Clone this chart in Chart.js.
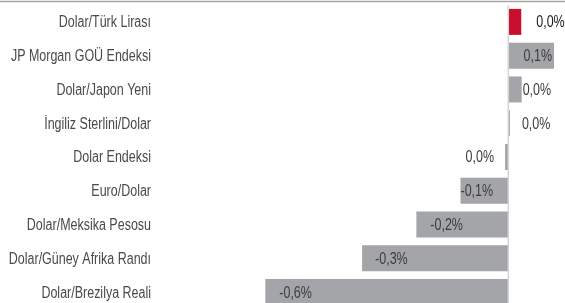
<!DOCTYPE html>
<html>
<head>
<meta charset="utf-8">
<script src="https://cdn.jsdelivr.net/npm/chart.js@4"></script>
<style>
  html, body { margin: 0; padding: 0; background: #fff; overflow: hidden; }
  canvas { display: block; }
</style>
</head>
<body>
<canvas id="myChart" width="565" height="310"></canvas>
<script>
// veriler
const categories = [
  'Dolar/Türk Lirası',
  'JP Morgan GOÜ Endeksi',
  'Dolar/Japon Yeni',
  'İngiliz Sterlini/Dolar',
  'Dolar Endeksi',
  'Euro/Dolar',
  'Dolar/Meksika Pesosu',
  'Dolar/Güney Afrika Randı',
  'Dolar/Brezilya Reali'
];
const values = [0.032, 0.113, 0.033, 0.004, -0.008, -0.118, -0.227, -0.361, -0.6];
const valueLabels = ['0,0%', '0,1%', '0,0%', '0,0%', '0,0%', '-0,1%', '-0,2%', '-0,3%', '-0,6%'];

const gray = '#a3a5a8';
const red = '#c8102e';
const font = "16px 'Liberation Sans', Arial, sans-serif";
const squeeze = 0.78; // dar yazı tipi taklidi

// etiket yerleşimi: [mod, kayma]
const labelPlace = [
  ['out', 15], ['inEnd', 2], ['out', 1], ['out', 12], ['out', 11],
  ['inStart', 0], ['inStart', 14], ['inStart', 13], ['inStart', 14]
];

function narrowText(ctx, str, x, y, align) {
  const w = ctx.measureText(str).width * squeeze;
  const left = align === 'right' ? x - w : x;
  ctx.save();
  ctx.translate(left, y);
  ctx.scale(squeeze, 1);
  ctx.textAlign = 'left';
  ctx.fillText(str, 0, 0);
  ctx.restore();
}

const extras = {
  id: 'extras',
  afterDraw(chart) {
    const ctx = chart.ctx;
    const x = chart.scales.x;
    const y = chart.scales.y;
    const area = chart.chartArea;
    ctx.save();
    // üst çizgi
    ctx.strokeStyle = '#a6a6a6';
    ctx.lineWidth = 1.5;
    ctx.beginPath();
    ctx.moveTo(0, 1.5);
    ctx.lineTo(chart.width, 1.5);
    ctx.stroke();
    // sıfır çizgisi
    const x0 = x.getPixelForValue(0);
    ctx.strokeStyle = '#d4d4d4';
    ctx.lineWidth = 1.5;
    ctx.beginPath();
    ctx.moveTo(x0, area.top);
    ctx.lineTo(x0, chart.height);
    ctx.stroke();

    ctx.font = font;
    ctx.textBaseline = 'middle';
    // kategori etiketleri
    ctx.fillStyle = '#4a4a4a';
    categories.forEach((c, i) => {
      narrowText(ctx, c, area.left - 9, y.getPixelForValue(i) + 1, 'right');
    });
    // değer etiketleri
    chart.getDatasetMeta(0).data.forEach((bar, i) => {
      const v = values[i];
      const mode = labelPlace[i][0], off = labelPlace[i][1];
      const end = bar.x, start = bar.base;
      let tx, al;
      ctx.fillStyle = i === 0 ? '#1a1a1a' : '#3c3c3c';
      if (mode === 'out') {
        if (v >= 0) { al = 'left'; tx = end + off; }
        else { al = 'right'; tx = end - off; }
      } else if (mode === 'inEnd') {
        al = 'right'; tx = end - off;
      } else {
        al = 'left'; tx = Math.min(end, start) + off;
      }
      narrowText(ctx, valueLabels[i], tx, bar.y + 1, al);
    });
    ctx.restore();
  }
};

new Chart(document.getElementById('myChart'), {
  type: 'bar',
  data: {
    labels: categories,
    datasets: [{
      data: values,
      backgroundColor: values.map((v, i) => i === 0 ? red : gray),
      borderWidth: 0,
      barPercentage: 0.77,
      categoryPercentage: 1
    }]
  },
  options: {
    indexAxis: 'y',
    responsive: false,
    animation: false,
    devicePixelRatio: 1,
    layout: { padding: { top: 5, bottom: 1, left: 0, right: 0 } },
    plugins: { legend: { display: false }, tooltip: { enabled: false } },
    scales: {
      x: {
        display: false,
        min: -0.86,
        max: 0.14
      },
      y: {
        afterFit: (s) => { s.width = 160; },
        grid: { display: false, drawTicks: false },
        border: { display: false },
        ticks: { display: false }
      }
    }
  },
  plugins: [extras]
});
</script>
</body>
</html>
